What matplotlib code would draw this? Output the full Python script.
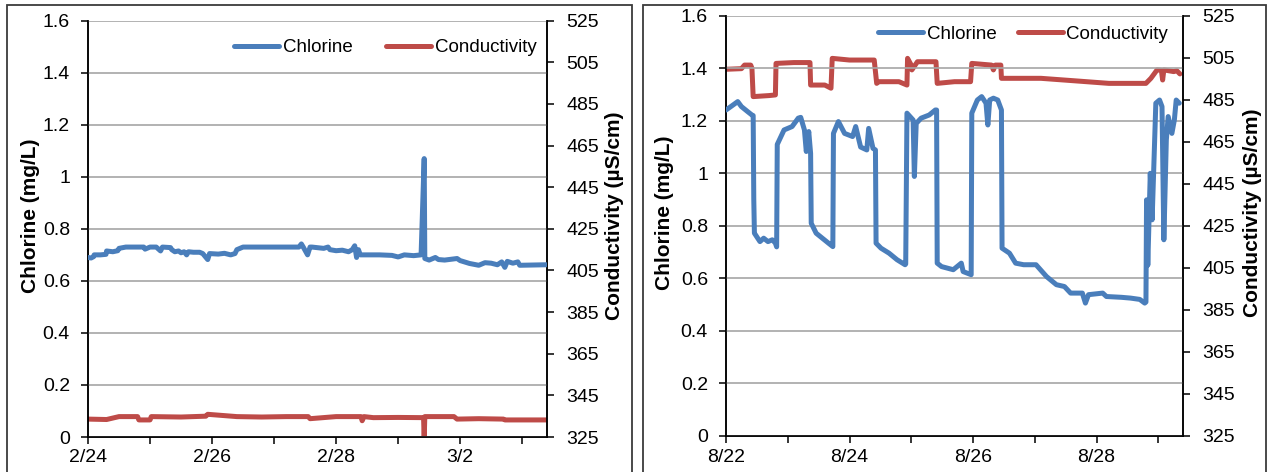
import matplotlib
matplotlib.use("Agg")
import matplotlib.pyplot as plt
from matplotlib.patches import Rectangle
from matplotlib.ticker import FixedLocator

plt.rcParams["font.family"] = ["Liberation Sans", "DejaVu Sans"]

C_CL = "#4A7EBB"     # chlorine blue
C_COND = "#BE4B48"   # conductivity red
GRID = "#A6A6A6"

# x ticks (days from start of each window)
tick_days = [0, 1, 2, 3, 4, 5, 6, 7]
feb_labels = ["2/24", "", "2/26", "", "2/28", "", "3/2", ""]
aug_labels = ["8/22", "", "8/24", "", "8/26", "", "8/28", ""]
cl_ticks = [0, 0.2, 0.4, 0.6, 0.8, 1.0, 1.2, 1.4, 1.6]
cl_tick_labels = ["0", "0.2", "0.4", "0.6", "0.8", "1", "1.2", "1.4", "1.6"]
co_ticks = [325, 345, 365, 385, 405, 425, 445, 465, 485, 505, 525]

# --- February window ---
feb_cl_t = [0.00, 0.05, 0.09, 0.10, 0.20, 0.29, 0.30, 0.40, 0.48, 0.50, 0.61, 0.75, 0.90, 0.92,
            1.00, 1.10, 1.17, 1.20, 1.33, 1.35, 1.40, 1.46, 1.50, 1.55, 1.59, 1.62, 1.70, 1.80,
            1.85, 1.93, 1.96, 2.10, 2.20, 2.30, 2.37, 2.40, 2.50, 2.80, 3.00, 3.40, 3.44, 3.47,
            3.54, 3.58, 3.61, 3.80, 3.87, 3.90, 4.00, 4.10, 4.20, 4.26, 4.30, 4.33, 4.36, 4.39,
            4.55, 4.70, 4.90, 5.00, 5.10, 5.25, 5.37, 5.42, 5.43, 5.50, 5.60, 5.65, 5.75, 5.95,
            6.00, 6.15, 6.30, 6.40, 6.50, 6.60, 6.67, 6.72, 6.76, 6.85, 6.93, 6.96, 7.39]
feb_cl_v = [0.690, 0.688, 0.693, 0.700, 0.700, 0.702, 0.715, 0.712, 0.716, 0.725, 0.730, 0.730, 0.730,
            0.722, 0.730, 0.730, 0.715, 0.730, 0.728, 0.720, 0.712, 0.715, 0.708, 0.712, 0.700, 0.712,
            0.710, 0.710, 0.705, 0.682, 0.705, 0.703, 0.706, 0.700, 0.705, 0.720, 0.730, 0.730, 0.730,
            0.730, 0.742, 0.730, 0.700, 0.730, 0.730, 0.725, 0.730, 0.720, 0.716, 0.718, 0.712, 0.720,
            0.735, 0.690, 0.720, 0.700, 0.700, 0.700, 0.698, 0.692, 0.700, 0.697, 0.700, 1.070, 0.686,
            0.680, 0.690, 0.682, 0.680, 0.686, 0.678, 0.667, 0.660, 0.670, 0.668, 0.662, 0.673, 0.652,
            0.675, 0.668, 0.673, 0.660, 0.662]

feb_co_t = [0.00, 0.30, 0.50, 0.80, 0.82, 1.00, 1.02, 1.50, 1.90, 1.93, 2.40, 2.80, 3.20,
            3.55, 3.58, 4.00, 4.40, 4.42, 4.45, 4.60, 5.00, 5.41, 5.42, 5.43, 5.44, 5.90,
            5.95, 6.30, 6.70, 6.72, 7.39]
feb_co_v = [333.6, 333.4, 334.8, 334.8, 333.2, 333.2, 334.8, 334.6, 335.0, 335.9, 334.8, 334.6, 334.8,
            334.8, 333.8, 334.8, 334.8, 332.8, 334.8, 334.3, 334.4, 334.3, 324.0, 334.8, 334.8, 334.8,
            333.6, 333.8, 333.6, 333.2, 333.2]

# --- August window (one row per plateau / decay segment) ---
aug_cl_t = [0.00, 0.09, 0.19, 0.25, 0.35, 0.42, 0.44,
            0.45, 0.46, 0.48, 0.55, 0.61, 0.68, 0.75, 0.80, 0.82,
            0.83, 0.94, 1.07, 1.17, 1.21, 1.27, 1.30, 1.34, 1.37,
            1.38, 1.46, 1.56, 1.66, 1.73,
            1.74, 1.82, 1.92, 2.05, 2.10, 2.18, 2.28, 2.31, 2.38, 2.42,
            2.43, 2.51, 2.64, 2.77, 2.90, 2.91,
            2.93, 3.03, 3.05, 3.08, 3.16, 3.29, 3.39, 3.41,
            3.42, 3.49, 3.68, 3.81, 3.84, 3.97,
            3.98, 4.07, 4.14, 4.21, 4.24, 4.27, 4.33, 4.40, 4.46,
            4.47, 4.59, 4.69, 4.82, 5.02, 5.19, 5.35, 5.48, 5.58, 5.77,
            5.82, 5.87, 6.10, 6.16, 6.40, 6.55, 6.70, 6.78, 6.80,
            6.81, 6.83, 6.87, 6.90, 6.96, 7.02, 7.06, 7.09, 7.13, 7.16,
            7.22, 7.26, 7.29, 7.34]
aug_cl_v = [1.241, 1.256, 1.273, 1.254, 1.235, 1.222, 1.220,
            0.899, 0.772, 0.765, 0.740, 0.753, 0.740, 0.747, 0.734, 0.720,
            1.110, 1.165, 1.178, 1.210, 1.213, 1.165, 1.083, 1.159, 1.076,
            0.810, 0.772, 0.753, 0.734, 0.721,
            1.152, 1.197, 1.152, 1.140, 1.178, 1.100, 1.089, 1.171, 1.095, 1.089,
            0.734, 0.715, 0.696, 0.671, 0.652, 0.655,
            1.229, 1.203, 0.988, 1.190, 1.210, 1.222, 1.241, 1.241,
            0.658, 0.645, 0.633, 0.658, 0.626, 0.614,
            1.229, 1.279, 1.292, 1.267, 1.184, 1.279, 1.286, 1.279, 1.241,
            0.715, 0.696, 0.658, 0.652, 0.652, 0.607, 0.576, 0.569, 0.544, 0.544,
            0.506, 0.538, 0.544, 0.531, 0.528, 0.525, 0.520, 0.506, 0.510,
            0.899, 0.650, 1.000, 0.823, 1.267, 1.279, 1.254, 0.747, 1.127, 1.216,
            1.152, 1.203, 1.279, 1.267]

aug_co_t = [0.00, 0.25, 0.30, 0.40, 0.42, 0.44, 0.70, 0.80, 0.81, 1.10, 1.36, 1.37, 1.60,
            1.70, 1.72, 2.00, 2.40, 2.44, 2.47, 2.80, 2.93, 2.94, 2.99, 3.01, 3.10, 3.40,
            3.42, 3.70, 3.96, 3.98, 4.30, 4.33, 4.36, 4.45, 4.46, 5.10, 5.70, 6.20, 6.80,
            6.88, 6.98, 7.05, 7.07, 7.09, 7.25, 7.30, 7.35]
aug_co_v = [499.5, 499.8, 501.5, 501.5, 500.0, 486.5, 487.0, 487.3, 502.3, 502.7, 502.7, 492.0, 492.0,
            490.5, 504.7, 503.9, 503.9, 492.8, 493.6, 493.6, 492.0, 504.7, 502.0, 499.2, 503.1, 503.1,
            492.8, 493.6, 493.6, 502.3, 501.5, 499.2, 501.5, 501.5, 495.2, 495.2, 493.9, 492.8, 492.8,
            495.2, 499.2, 499.0, 494.4, 499.2, 498.4, 498.8, 497.3]


def draw_panel(rect, frame, cl_t, cl_v, co_t, co_v, xlabels, lab_x, leg):
    fig.add_artist(Rectangle((frame[0], -0.05), frame[1] - frame[0], frame[2] + 0.05,
                             transform=fig.transFigure, fill=False, ec="#3A3A3A", lw=1.3))
    ax = fig.add_axes(rect)
    ax2 = ax.twinx()
    ax.set_zorder(ax2.get_zorder() + 1)
    ax.patch.set_visible(False)

    l1, = ax.plot(cl_t, cl_v, color=C_CL, lw=3.6, solid_joinstyle="round",
                  solid_capstyle="round", label="Chlorine", zorder=3)
    l2, = ax2.plot(co_t, co_v, color=C_COND, lw=3.6, solid_joinstyle="round",
                   solid_capstyle="round", label="Conductivity")

    ax.set_xlim(0, 7.4)
    ax.set_ylim(0, 1.6)
    ax2.set_ylim(325, 525)
    ax.yaxis.set_major_locator(FixedLocator(cl_ticks))
    ax.set_yticklabels(cl_tick_labels)
    ax2.yaxis.set_major_locator(FixedLocator(co_ticks))
    ax.xaxis.set_major_locator(FixedLocator(tick_days))
    ax.set_xticklabels(xlabels)

    ax.grid(True, axis="y", color=GRID, lw=1.2, zorder=0)
    ax.set_axisbelow(True)
    for a in (ax, ax2):
        a.spines["top"].set_visible(False)
        for s in ("left", "right", "bottom"):
            a.spines[s].set_color("black")
            a.spines[s].set_linewidth(1.1)
    ax.tick_params(axis="y", labelsize=14, length=5, width=1.1, direction="out", pad=8)
    ax.tick_params(axis="x", labelsize=14, length=5, width=1.1, direction="out", pad=4)
    ax2.tick_params(axis="y", labelsize=14, length=5, width=1.1, direction="out", pad=9)

    ax.set_ylabel("Chlorine (mg/L)", fontsize=15, fontweight="bold")
    ax2.set_ylabel("Conductivity (µS/cm)", fontsize=15, fontweight="bold")
    ax.yaxis.set_label_coords(lab_x[0], 0.532)
    ax2.yaxis.set_label_coords(lab_x[1], 0.532)

    ax.legend([l1, l2], ["Chlorine", "Conductivity"], loc="upper right",
              bbox_to_anchor=(leg[0], leg[1]), ncol=2, frameon=False, fontsize=13.5,
              handlelength=2.4, handletextpad=0.2, columnspacing=leg[2], borderaxespad=0.2)
    return ax


fig = plt.figure(figsize=(12.68, 4.72), dpi=100)
draw_panel([88 / 1268, 1 - 437 / 472, (547 - 88) / 1268, (437 - 20.7) / 472],
           (7 / 1268, 632 / 1268, 1 - 5 / 472),
           feb_cl_t, feb_cl_v, feb_co_t, feb_co_v, feb_labels, (-0.105, 1.126),
           (1.002, 0.983, 1.8))
draw_panel([726 / 1268, 1 - 436 / 472, (1183 - 726) / 1268, (436 - 15.7) / 472],
           (643 / 1268, 1266 / 1268, 1 - 5 / 472),
           aug_cl_t, aug_cl_v, aug_co_t, aug_co_v, aug_labels, (-0.114, 1.131),
           (0.992, 1.003, 1.1))

fig.savefig("out.png", dpi=100)
